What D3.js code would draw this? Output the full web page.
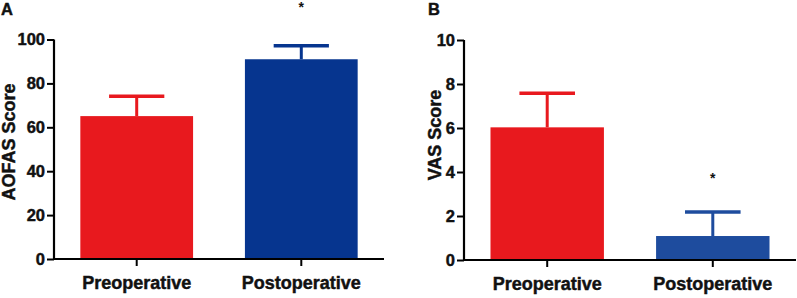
<!DOCTYPE html>
<html><head><meta charset="utf-8">
<script src="https://cdn.jsdelivr.net/npm/d3@7"></script>
<style>
body{margin:0;background:#fff;}
svg{display:block;font-family:"Liberation Sans",Arial,sans-serif;font-weight:bold;}
</style></head>
<body>
<svg id="chart" width="797" height="298"></svg>
<script>
const categories = ["Preoperative", "Postoperative"];
const aofasMeans = [65.1, 91.0];
const aofasErr = [9.0, 6.2];
const vasMeans = [6.03, 1.09];
const vasErr = [1.55, 1.09];
const yTicksA = [0, 20, 40, 60, 80, 100];
const yTicksB = [0, 2, 4, 6, 8, 10];
const colorsA = ["#E8191E", "#06358F"];
const colorsB = ["#E8191E", "#1E4C9E"];

const svg = d3.select("#chart");
const TXT = "#111";

function heavy(sel) {
  sel.attr("fill", TXT).attr("stroke", TXT).attr("stroke-width", 0.45)
     .attr("font-family", "Liberation Sans, Arial, sans-serif").attr("font-weight", "bold");
}

function panel(cfg) {
  const g = svg.append("g");
  const x = d3.scaleBand().domain(categories).range([cfg.x0, cfg.x1])
    .paddingInner(0.315).paddingOuter(0.16);
  const y = d3.scaleLinear().domain(cfg.domain).range([cfg.yb, cfg.yt]);
  const data = categories.map((c, i) => ({c, m: cfg.means[i], e: cfg.errs[i], col: cfg.colors[i], star: cfg.stars[i]}));

  g.selectAll("rect.bar").data(data).enter().append("rect")
    .attr("x", d => x(d.c)).attr("width", x.bandwidth())
    .attr("y", d => y(d.m)).attr("height", d => y(0) - y(d.m))
    .attr("fill", d => d.col);
  const capW = x.bandwidth() * 0.49;
  g.selectAll("line.stem").data(data).enter().append("line")
    .attr("x1", d => x(d.c) + x.bandwidth()/2).attr("x2", d => x(d.c) + x.bandwidth()/2)
    .attr("y1", d => y(d.m)).attr("y2", d => y(d.m + d.e))
    .attr("stroke", d => d.col).attr("stroke-width", 3);
  g.selectAll("line.cap").data(data).enter().append("line")
    .attr("x1", d => x(d.c) + x.bandwidth()/2 - capW/2).attr("x2", d => x(d.c) + x.bandwidth()/2 + capW/2)
    .attr("y1", d => y(d.m + d.e)).attr("y2", d => y(d.m + d.e))
    .attr("stroke", d => d.col).attr("stroke-width", 3.5);
  g.selectAll("text.star").data(data.filter(d => d.star)).enter().append("text")
    .attr("x", d => x(d.c) + x.bandwidth()/2)
    .attr("y", d => y(d.m + d.e) + cfg.starDy)
    .attr("text-anchor", "middle").attr("font-size", 14).attr("fill", TXT)
    .text("*");

  const yAx = g.append("g").attr("transform", `translate(${cfg.x0},0)`)
    .call(d3.axisLeft(y).tickValues(cfg.ticks).tickSize(7).tickPadding(2));
  const xAx = g.append("g").attr("transform", `translate(0,${cfg.yb})`)
    .call(d3.axisBottom(x).tickSize(7).tickPadding(10));
  [yAx, xAx].forEach(a => {
    a.selectAll("path").attr("stroke", "#000").attr("stroke-width", 2.2);
    a.selectAll("line").attr("stroke", "#000").attr("stroke-width", 2);
    heavy(a.selectAll("text"));
  });
  yAx.selectAll("path").attr("d", `M0,${cfg.yt}V${cfg.yb}`);
  xAx.selectAll("path").attr("d", `M${cfg.x0},0H${cfg.x1}`);
  yAx.selectAll("text").attr("font-size", 16.5);
  xAx.selectAll("text").attr("font-size", 18).attr("dy", "0.71em");

  heavy(g.append("text")
    .attr("transform", `translate(${cfg.titleX},${cfg.titleY}) rotate(-90)`)
    .attr("text-anchor", "middle").attr("font-size", 18)
    .text(cfg.title));
  heavy(g.append("text").attr("x", cfg.labelX).attr("y", 14.5).attr("font-size", 16.5).text(cfg.label));
}

panel({x0: 54, x1: 384, yb: 259, yt: 39.5, domain: [0, 100], ticks: yTicksA,
  means: aofasMeans, errs: aofasErr, colors: colorsA, stars: [false, true], starDy: -34,
  title: "AOFAS Score", titleX: 15, titleY: 142, label: "A", labelX: 1});
panel({x0: 464, x1: 796, yb: 260, yt: 40, domain: [0, 10], ticks: yTicksB,
  means: vasMeans, errs: vasErr, colors: colorsB, stars: [false, true], starDy: -29,
  title: "VAS Score", titleX: 441, titleY: 135, label: "B", labelX: 428});
</script>
</body></html>
